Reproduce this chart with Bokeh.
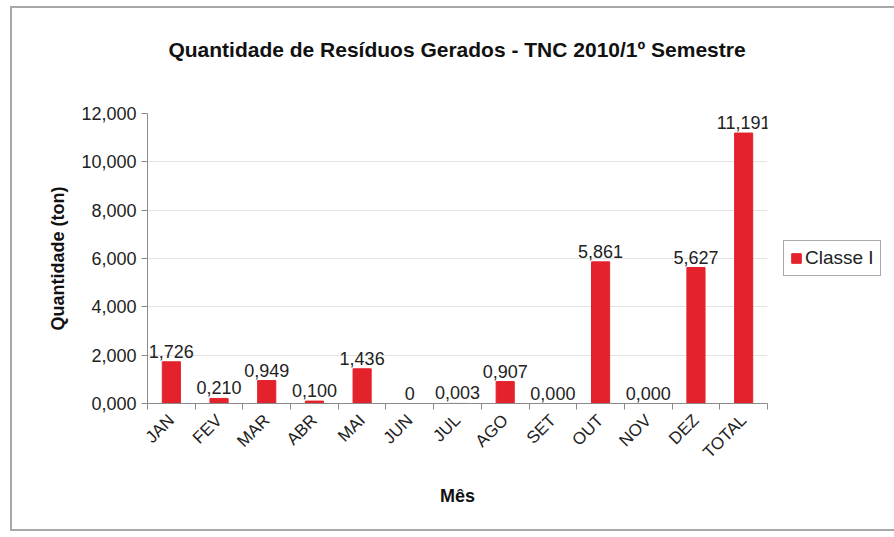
import math
from bokeh.plotting import figure
from bokeh.layouts import column
from bokeh.models import (Range1d, FixedTicker, ColumnDataSource, CustomJSTickFormatter,
                          Legend, LegendItem, Div)
from bokeh.core.properties import value
from bokeh.embed import file_html
from bokeh.resources import INLINE

# ---- data ----
months = ["JAN", "FEV", "MAR", "ABR", "MAI", "JUN", "JUL", "AGO", "SET", "OUT", "NOV", "DEZ", "TOTAL"]
quantities = [1.726, 0.210, 0.949, 0.100, 1.436, 0.0, 0.003, 0.907, 0.000, 5.861, 0.000, 5.627, 11.191]
value_labels = ["1,726", "0,210", "0,949", "0,100", "1,436", "0", "0,003", "0,907", "0,000",
                "5,861", "0,000", "5,627", "11,191"]
y_ticks = [0, 2, 4, 6, 8, 10, 12]
y_tick_labels = ["0,000", "2,000", "4,000", "6,000", "8,000", "10,000", "12,000"]
series_name = "Classe I"
title_text = "Quantidade de Resíduos Gerados - TNC 2010/1º Semestre"
x_title = "Mês"
y_title = "Quantidade (ton)"

FONT = "Liberation Sans"
BAR = "#e4222b"
AXIS = "#8a8a8a"

n = len(months)
centers = [i + 0.5 for i in range(n)]
boundaries = list(range(n + 1))
src = ColumnDataSource(dict(x=centers, y=quantities, lbl=value_labels))

p = figure(frame_width=620, frame_height=290, output_backend="svg", toolbar_location=None,
           x_range=Range1d(0, n), y_range=Range1d(y_ticks[0], y_ticks[-1]),
           min_border_left=135, min_border_right=115, min_border_top=51, min_border_bottom=126)
p.margin = 0
p.outline_line_color = None
p.background_fill_color = "white"
p.border_fill_color = "white"

bars = p.vbar(x="x", top="y", width=0.38, source=src, fill_color=BAR, line_color=BAR)

p.text(x="x", y="y", text="lbl", source=src, text_align="center", text_baseline="bottom",
       y_offset=-4, text_font=value(FONT), text_font_size="18px", text_color="#222222")

# x axis
xa = p.xaxis[0]
xa.ticker = FixedTicker(ticks=centers, minor_ticks=boundaries)
xa.formatter = CustomJSTickFormatter(args=dict(labels=months),
                                     code="const i = Math.floor(tick); return (i >= 0 && i < labels.length) ? labels[i] : '';")
xa.major_tick_out = 0
xa.major_tick_in = 0
xa.minor_tick_out = 6
xa.minor_tick_in = 0
xa.minor_tick_line_color = AXIS
xa.axis_line_color = AXIS
xa.major_label_orientation = math.pi / 4
xa.major_label_text_font = FONT
xa.major_label_text_font_size = "17px"
xa.major_label_text_color = "#222222"
xa.major_label_standoff = 8
xa.axis_label = x_title
xa.axis_label_text_font = FONT
xa.axis_label_text_font_size = "18px"
xa.axis_label_text_font_style = "bold"
xa.axis_label_text_color = "#111111"
xa.axis_label_standoff = 14

# y axis
ya = p.yaxis[0]
ya.ticker = FixedTicker(ticks=y_ticks, minor_ticks=[])
ya.major_label_overrides = {t: l for t, l in zip(y_ticks, y_tick_labels)}
ya.major_tick_out = 6
ya.major_tick_in = 0
ya.major_tick_line_color = AXIS
ya.axis_line_color = AXIS
ya.minor_tick_out = 0
ya.minor_tick_in = 0
ya.major_label_text_font = FONT
ya.major_label_text_font_size = "18px"
ya.major_label_text_color = "#222222"
ya.major_label_standoff = 5
ya.axis_label = y_title
ya.axis_label_text_font = FONT
ya.axis_label_text_font_size = "18px"
ya.axis_label_text_font_style = "bold"
ya.axis_label_text_color = "#111111"
ya.axis_label_standoff = 10

p.xgrid.visible = False
p.ygrid.grid_line_color = "#e4e4e4"
p.ygrid.ticker = FixedTicker(ticks=y_ticks)

# legend (outside the frame, on the right)
lg = Legend(items=[LegendItem(label=series_name, renderers=[bars])], location="center_left")
lg.label_text_font = FONT
lg.label_text_font_size = "19px"
lg.label_text_color = "#222222"
lg.glyph_width = 12
lg.glyph_height = 12
lg.label_standoff = 3
lg.padding = 6
lg.margin = 16
lg.spacing = 0
lg.label_height = 18
lg.border_line_color = "#555555"
lg.border_line_width = 1
lg.background_fill_alpha = 1
p.add_layout(lg, "right")

# chart title, centred over the plot frame
title_div = Div(text=title_text, width=620, height=24, margin=(30, 0, 0, 135),
                styles={"font-family": FONT, "font-size": "21px", "font-weight": "bold",
                        "color": "#111111", "text-align": "center", "line-height": "24px",
                        "white-space": "nowrap"})

page = column(title_div, p, spacing=0, margin=(6, 0, 0, 10),
              styles={"border": "2px solid #a8a8a8", "background": "white"})

open("out.html", "w").write(file_html(page, INLINE))
